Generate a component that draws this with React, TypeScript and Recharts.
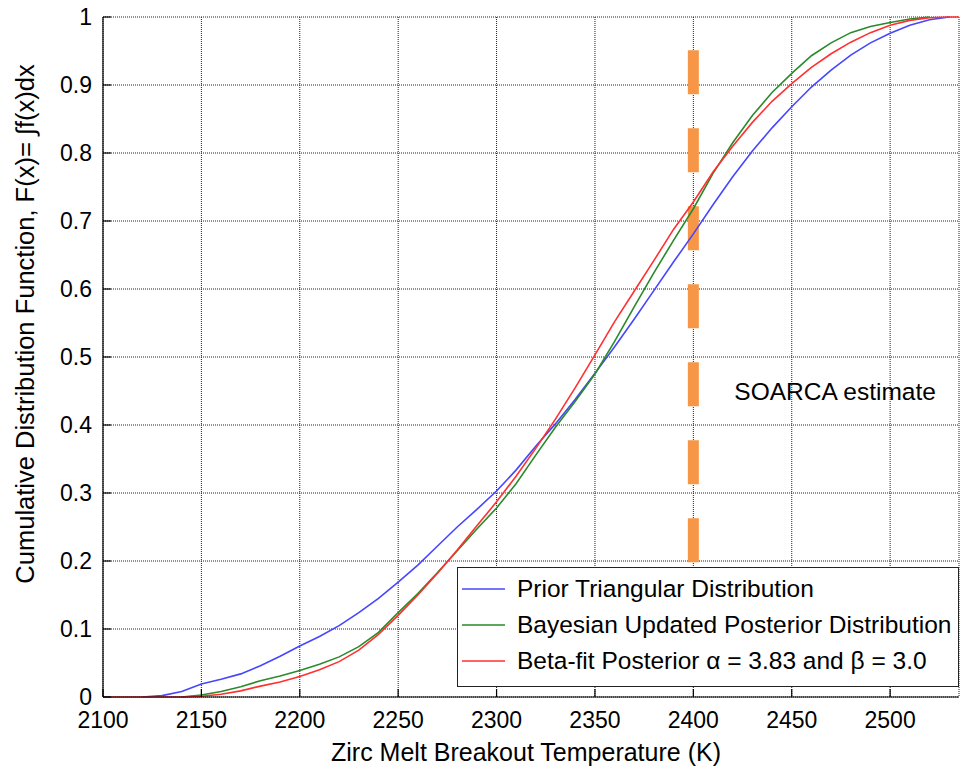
import { LineChart, Line, XAxis, YAxis, CartesianGrid, Legend, ReferenceLine, ReferenceDot, Label } from 'recharts';

const FONT = "'Liberation Sans', Arial, sans-serif";

// temperature grid (K)
const temps = [
  2100, 2110, 2120, 2130, 2140, 2150, 2160, 2170, 2180, 2190,
  2200, 2210, 2220, 2230, 2240, 2250, 2260, 2270, 2280, 2290,
  2300, 2310, 2320, 2330, 2340, 2350, 2360, 2370, 2380, 2390,
  2400, 2410, 2420, 2430, 2440, 2450, 2460, 2470, 2480, 2490,
  2500, 2510, 2520, 2530, 2535,
];

// Prior Triangular Distribution
const prior = [
  null, null, 0, 0.002, 0.008, 0.019, 0.026, 0.034, 0.046, 0.06,
  0.075, 0.089, 0.105, 0.124, 0.145, 0.169, 0.194, 0.222, 0.25, 0.276,
  0.303, 0.334, 0.369, 0.402, 0.438, 0.476, 0.515, 0.556, 0.598, 0.64,
  0.681, 0.724, 0.765, 0.803, 0.837, 0.868, 0.897, 0.922, 0.944, 0.962,
  0.976, 0.988, 0.996, 1, null,
];

// Bayesian Updated Posterior Distribution
const bayes = [
  null, null, null, null, 0, 0.003, 0.008, 0.015, 0.024, 0.031,
  0.039, 0.048, 0.059, 0.074, 0.095, 0.124, 0.152, 0.183, 0.215, 0.247,
  0.278, 0.314, 0.356, 0.397, 0.435, 0.475, 0.523, 0.574, 0.624, 0.672,
  0.718, 0.77, 0.815, 0.855, 0.889, 0.917, 0.943, 0.962, 0.977, 0.986,
  0.992, 0.997, 1, null, null,
];

// Beta-fit Posterior
const beta = [
  0, 0, 0, 0, 0, 0.001, 0.004, 0.009, 0.016, 0.022,
  0.03, 0.04, 0.052, 0.069, 0.092, 0.12, 0.15, 0.182, 0.216, 0.252,
  0.287, 0.325, 0.366, 0.409, 0.455, 0.503, 0.552, 0.597, 0.642, 0.688,
  0.728, 0.772, 0.81, 0.845, 0.876, 0.902, 0.926, 0.946, 0.963, 0.977,
  0.988, 0.995, 0.999, 1, 1,
];

const seriesNames = [
  'Prior Triangular Distribution',
  'Bayesian Updated Posterior Distribution',
  'Beta-fit Posterior \u03b1 = 3.83 and \u03b2 = 3.0',
];
const seriesColors = ['#4646ff', '#2a8a2a', '#ff3030'];

const xTicks = [2100, 2150, 2200, 2250, 2300, 2350, 2400, 2450, 2500];
const yTicks = [0, 0.1, 0.2, 0.3, 0.4, 0.5, 0.6, 0.7, 0.8, 0.9, 1];

// SOARCA estimate marker
const soarcaTemp = 2400;
const soarcaTop = 0.951;
const soarcaBottom = 0.194;
const soarcaLabelY = 0.45;

const data = temps.map((t, i) => ({ temp: t, prior: prior[i], bayes: bayes[i], beta: beta[i] }));

const LegendBox = () => (
  <div
    style={{
      width: 502,
      height: 120,
      boxSizing: 'border-box',
      border: '1.5px solid #222',
      background: '#fff',
      paddingTop: 3,
    }}
  >
    {seriesNames.map((name, i) => (
      <div key={name} style={{ display: 'flex', alignItems: 'center', height: 36 }}>
        <svg width={47} height={6} style={{ marginLeft: 4, display: 'block' }}>
          <line x1={0} y1={3} x2={43} y2={3} stroke={seriesColors[i]} strokeWidth={1.6} />
        </svg>
        <span style={{ marginLeft: 8, fontSize: 24.5, fontFamily: FONT, color: '#000', whiteSpace: 'nowrap' }}>
          {name}
        </span>
      </div>
    ))}
  </div>
);

const YTitle = () => {
  const cx = 25;
  const cy = 324;
  return (
    <text
      x={cx}
      y={cy}
      transform={`rotate(-90 ${cx} ${cy})`}
      textAnchor="middle"
      dominantBaseline="central"
      fontSize={25.5}
      fontFamily={FONT}
      fill="#000"
    >
      Cumulative Distribution Function, F(x)= {'\u222b'}f(x)dx
    </text>
  );
};

const App = () => {
  return (
    <div style={{ position: 'absolute', left: 0, top: 0, background: '#fff' }}>
      <LineChart
        width={960}
        height={767}
        data={data}
        margin={{ top: 17, right: 1, left: 0, bottom: 0 }}
        style={{ fontFamily: FONT }}
      >
        <CartesianGrid stroke="#222" strokeDasharray="1 1" />
        <XAxis
          dataKey="temp"
          type="number"
          domain={[2100, 2535]}
          ticks={xTicks}
          height={70}
          tickSize={-8}
          tickMargin={23}
          axisLine={{ stroke: '#000', strokeWidth: 1.2 }}
          tickLine={{ stroke: '#000', strokeWidth: 1.2 }}
          tick={{ fontSize: 23, fill: '#000', fontFamily: FONT }}
          label={{
            value: 'Zirc Melt Breakout Temperature (K)',
            position: 'insideBottom',
            offset: 6,
            dx: -5,
            fontSize: 25,
            fill: '#000',
            fontFamily: FONT,
          }}
        />
        <XAxis
          xAxisId="top"
          orientation="top"
          dataKey="temp"
          type="number"
          domain={[2100, 2535]}
          ticks={xTicks}
          height={0}
          tickSize={-8}
          tick={false}
          axisLine={{ stroke: '#000', strokeWidth: 1.2 }}
          tickLine={{ stroke: '#000', strokeWidth: 1.2 }}
        />
        <YAxis
          type="number"
          domain={[0, 1]}
          ticks={yTicks}
          width={103}
          tickSize={-8}
          tickMargin={19}
          axisLine={{ stroke: '#000', strokeWidth: 1.2 }}
          tickLine={{ stroke: '#000', strokeWidth: 1.2 }}
          tick={{ fontSize: 23, fill: '#000', fontFamily: FONT }}
        >
          <Label content={<YTitle />} />
        </YAxis>
        <YAxis
          yAxisId="right"
          orientation="right"
          type="number"
          domain={[0, 1]}
          ticks={yTicks}
          width={0}
          tickSize={-8}
          tick={false}
          axisLine={{ stroke: '#000', strokeWidth: 1.2 }}
          tickLine={{ stroke: '#000', strokeWidth: 1.2 }}
        />
        <ReferenceLine
          segment={[
            { x: soarcaTemp, y: soarcaTop },
            { x: soarcaTemp, y: soarcaBottom },
          ]}
          stroke="#f79646"
          strokeWidth={11}
          strokeDasharray="44 34"
        />
        <ReferenceDot
          x={soarcaTemp}
          y={soarcaLabelY}
          r={0}
          fill="none"
          stroke="none"
          label={{ value: 'SOARCA estimate', position: 'right', offset: 41, fontSize: 24.5, fill: '#000', fontFamily: FONT }}
        />
        <Line
          type="linear"
          dataKey="prior"
          name={seriesNames[0]}
          stroke={seriesColors[0]}
          strokeWidth={1.6}
          dot={false}
          isAnimationActive={false}
        />
        <Line
          type="linear"
          dataKey="bayes"
          name={seriesNames[1]}
          stroke={seriesColors[1]}
          strokeWidth={1.6}
          dot={false}
          isAnimationActive={false}
        />
        <Line
          type="linear"
          dataKey="beta"
          name={seriesNames[2]}
          stroke={seriesColors[2]}
          strokeWidth={1.6}
          dot={false}
          isAnimationActive={false}
        />
        <Legend
          layout="vertical"
          align="center"
          verticalAlign="middle"
          content={<LegendBox />}
          wrapperStyle={{ position: 'absolute', left: 457, top: 567, width: 502, height: 120 }}
        />
      </LineChart>
    </div>
  );
};

export default App;
